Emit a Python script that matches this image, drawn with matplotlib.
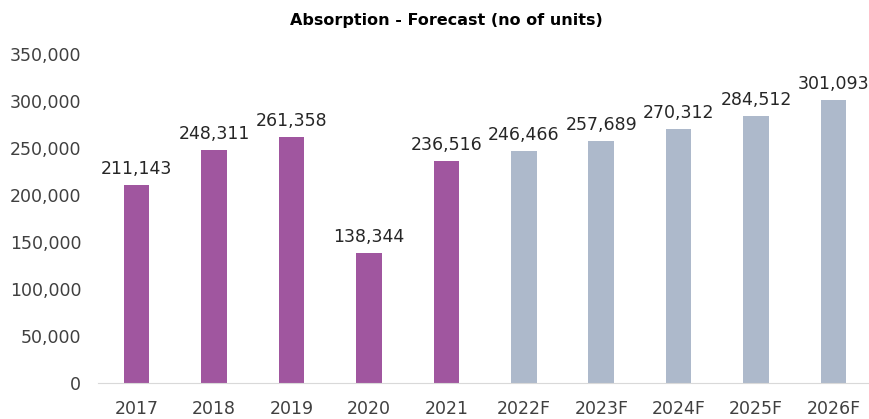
import matplotlib
matplotlib.use("Agg")
import matplotlib.pyplot as plt
from matplotlib.ticker import FuncFormatter

years = ["2017", "2018", "2019", "2020", "2021", "2022F", "2023F", "2024F", "2025F", "2026F"]
units = [211143, 248311, 261358, 138344, 236516, 246466, 257689, 270312, 284512, 301093]
is_forecast = [False, False, False, False, False, True, True, True, True, True]

purple = "#A0569F"
grey_blue = "#ADB9CB"
colors = [grey_blue if f else purple for f in is_forecast]

plt.rcParams["font.family"] = ["DejaVu Sans"]

fig = plt.figure(figsize=(8.7, 4.19), dpi=100)
ax = fig.add_axes([0.1126, 0.086, 0.89, 0.785])

x = range(len(years))
bars = ax.bar(x, units, width=0.33, color=colors)

for xi, v in zip(x, units):
    ax.annotate("{:,}".format(v), (xi, v), xytext=(0, 5), textcoords="offset points",
                ha="center", va="bottom", fontsize=12.5, color="#262626")

ax.set_xlim(-0.5, len(years) - 0.5)
ax.set_ylim(0, 350000)
ax.set_yticks(range(0, 350001, 50000))
ax.yaxis.set_major_formatter(FuncFormatter(lambda v, p: "{:,}".format(int(v))))
ax.set_xticks(list(x))
ax.set_xticklabels(years)
ax.tick_params(axis="both", length=0, labelsize=12.5, labelcolor="#404040")
ax.tick_params(axis="y", pad=12)
ax.tick_params(axis="x", pad=12)

for s in ["top", "right", "left"]:
    ax.spines[s].set_visible(False)
ax.spines["bottom"].set_color("#D9D9D9")

fig.text(0.513, 0.952, "Absorption - Forecast (no of units)", ha="center", va="center",
         fontsize=11.5, fontweight="bold", color="#000000")

fig.savefig("out.png", dpi=100)
